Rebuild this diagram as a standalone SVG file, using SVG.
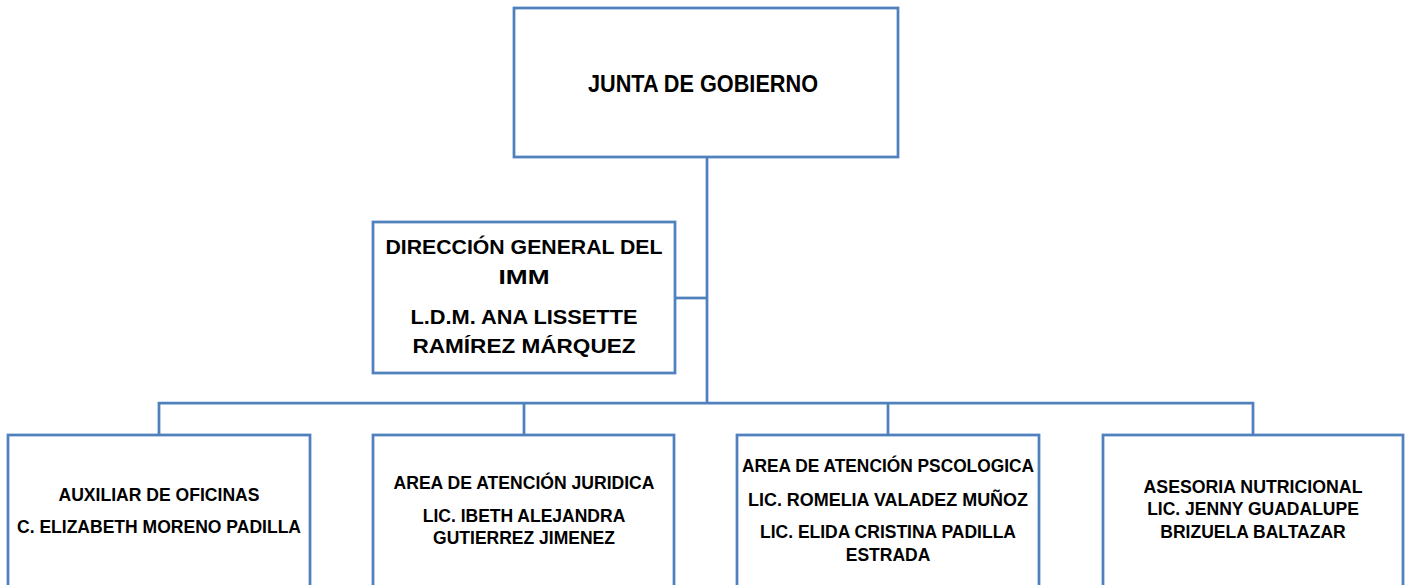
<svg xmlns="http://www.w3.org/2000/svg" width="1407" height="585" viewBox="0 0 1407 585">
<style>
.box{fill:#fff;stroke:#4f81bd;stroke-width:2.75}
.ln{fill:none;stroke:#4f81bd;stroke-width:2.75}
text{font-family:"Liberation Sans",Arial,sans-serif;font-weight:bold;fill:#000;text-anchor:middle}
.t0{font-size:23px}
.t1{font-size:21px}
.t2{font-size:17.5px}
</style>
<rect width="1407" height="585" fill="#fff"/>
<g id="connectors">
<path class="ln" d="M707,157 V403"/>
<path class="ln" d="M675,298 H707"/>
<path class="ln" d="M159,435 V403 H1253 V435"/>
<path class="ln" d="M524,403 V435"/>
<path class="ln" d="M888,403 V435"/>
</g>
<g id="junta">
<rect class="box" x="514" y="8" width="384" height="149"/>
<text class="t0" x="703" y="92" textLength="230" lengthAdjust="spacingAndGlyphs">JUNTA DE GOBIERNO</text>
</g>
<g id="direccion">
<rect class="box" x="373" y="222" width="302" height="151"/>
<text class="t1" x="524" y="254" textLength="277" lengthAdjust="spacingAndGlyphs">DIRECCIÓN GENERAL DEL</text>
<text class="t1" x="524" y="284" textLength="51" lengthAdjust="spacingAndGlyphs">IMM</text>
<text class="t1" x="524" y="324" textLength="227" lengthAdjust="spacingAndGlyphs">L.D.M. ANA LISSETTE</text>
<text class="t1" x="524" y="353" textLength="223" lengthAdjust="spacingAndGlyphs">RAMÍREZ MÁRQUEZ</text>
</g>
<g id="auxiliar">
<rect class="box" x="8" y="435" width="302" height="170"/>
<text class="t2" x="159" y="501" textLength="201" lengthAdjust="spacingAndGlyphs">AUXILIAR DE OFICINAS</text>
<text class="t2" x="159" y="533" textLength="284" lengthAdjust="spacingAndGlyphs">C. ELIZABETH MORENO PADILLA</text>
</g>
<g id="juridica">
<rect class="box" x="373" y="435" width="301" height="170"/>
<text class="t2" x="524" y="489" textLength="261" lengthAdjust="spacingAndGlyphs">AREA DE ATENCIÓN JURIDICA</text>
<text class="t2" x="524" y="522">LIC. IBETH ALEJANDRA</text>
<text class="t2" x="524" y="544">GUTIERREZ JIMENEZ</text>
</g>
<g id="psicologica">
<rect class="box" x="737" y="435" width="302" height="170"/>
<text class="t2" x="888" y="472" textLength="292" lengthAdjust="spacingAndGlyphs">AREA DE ATENCIÓN PSCOLOGICA</text>
<text class="t2" x="888" y="506" textLength="280" lengthAdjust="spacingAndGlyphs">LIC. ROMELIA VALADEZ MUÑOZ</text>
<text class="t2" x="888" y="538">LIC. ELIDA CRISTINA PADILLA</text>
<text class="t2" x="888" y="561">ESTRADA</text>
</g>
<g id="nutricional">
<rect class="box" x="1103" y="435" width="300" height="170"/>
<text class="t2" x="1253" y="493" textLength="219" lengthAdjust="spacingAndGlyphs">ASESORIA NUTRICIONAL</text>
<text class="t2" x="1253" y="515">LIC. JENNY GUADALUPE</text>
<text class="t2" x="1253" y="538">BRIZUELA BALTAZAR</text>
</g>
</svg>
